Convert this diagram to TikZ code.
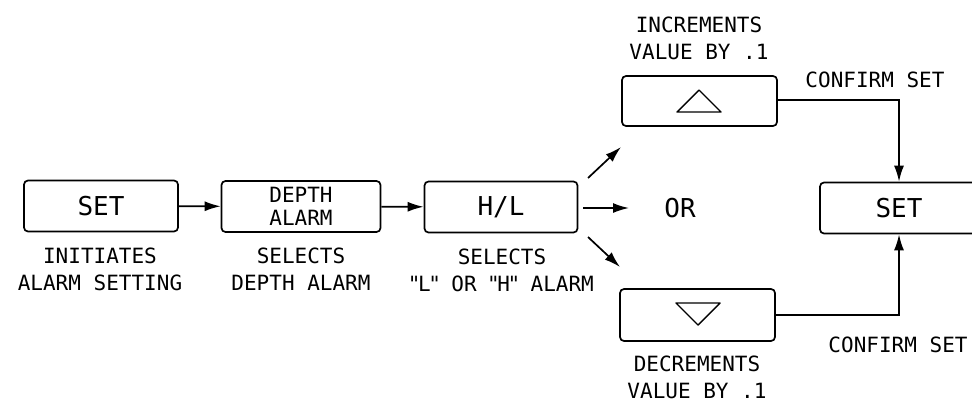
\documentclass[tikz,border=0pt]{standalone}
\usepackage{fontspec}
\setmonofont{DejaVu Sans Mono}
\usetikzlibrary{arrows.meta}
\newcommand{\qm}{\makebox[8pt]{"}}
\begin{document}
\begin{tikzpicture}[x=1pt,y=-1pt,
  panel/.style={draw, line width=1.7pt, rounded corners=4pt, minimum height=51pt, inner sep=0pt},
  bigtxt/.style={font=\ttfamily\fontsize{26}{28}\selectfont},
  lbl/.style={font=\ttfamily\fontsize{21}{27}\selectfont, align=center, inner sep=0pt},
  conn/.style={line width=1.7pt, -{Latex[length=16pt,width=10pt]}},
  wire/.style={line width=1.7pt}]
\useasboundingbox (0,0) rectangle (972,402);
% boxes
\node[panel, bigtxt, minimum width=154pt] (set1) at (101,206) {SET};
\node[panel, minimum width=159pt, align=center, font=\ttfamily\fontsize{21}{23}\selectfont] (depth) at (301,206.5) {DEPTH\\ALARM};
\node[panel, bigtxt, minimum width=153pt] (hl) at (501,207) {H/L};
\node[panel, minimum width=155pt, minimum height=50pt] (up) at (699.5,101) {};
\node[panel, minimum width=155pt, minimum height=52pt] (down) at (697.5,315) {};
\node[panel, bigtxt, minimum width=158pt] (set2) at (899,208) {SET};
\node[bigtxt, inner sep=0pt] (or) at (680,208) {OR};
% triangles
\draw[line width=1.4pt, line join=round] (677,112) -- (699,90) -- (721,112) -- cycle;
\draw[line width=1.4pt, line join=round] (676,303) -- (720,303) -- (698,325) -- cycle;
% labels
\node[lbl] (l1) at (100,269) {INITIATES\\ALARM SETTING};
\node[lbl] (l2) at (301,269) {SELECTS\\DEPTH ALARM};
\node[lbl] (l3) at (502,270) {SELECTS\\\qm L\qm{} OR \qm H\qm{} ALARM};
\node[lbl] (l4) at (699,38) {INCREMENTS\\VALUE BY .1};
\node[lbl] (l5) at (697,377) {DECREMENTS\\VALUE BY .1};
\node[lbl] (c1) at (875,80) {CONFIRM SET};
\node[lbl] (c2) at (898,345) {CONFIRM SET};
% free ends
\coordinate (a1s) at (588,178);
\coordinate (a1e) at (621,147);
\coordinate (a2s) at (583,208);
\coordinate (a2e) at (629,208);
\coordinate (a3s) at (588,237);
\coordinate (a3e) at (620,267);
% connectors
\draw[conn] (set1) -- (depth);
\draw[conn] (depth) -- (hl);
\draw[conn] (a1s) -- (a1e);
\draw[conn] (a2s) -- (a2e);
\draw[conn] (a3s) -- (a3e);
\draw[conn] ([yshift=1pt]up.east) -| (set2.north);
\draw[conn] (down.east) -| (set2.south);
\end{tikzpicture}
\end{document}
